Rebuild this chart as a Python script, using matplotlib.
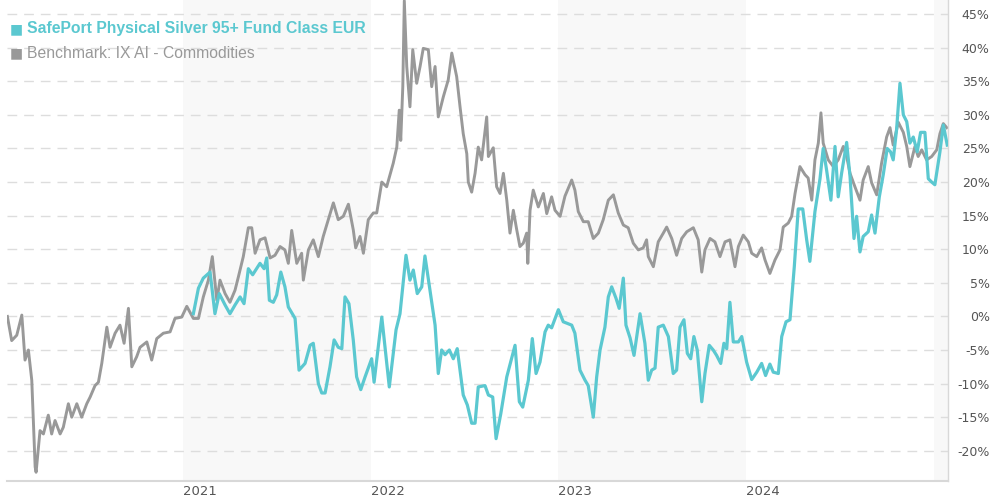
import matplotlib
matplotlib.use("Agg")
import matplotlib.pyplot as plt
import matplotlib.ticker as mticker

# ---- data (decimal years, % return) ----
bench_t = [2020.064, 2020.087, 2020.114, 2020.141, 2020.158, 2020.176, 2020.194, 2020.212, 2020.217, 2020.238,
           2020.256, 2020.282, 2020.300, 2020.318, 2020.345, 2020.362, 2020.389, 2020.407, 2020.434, 2020.460,
           2020.487, 2020.505, 2020.531, 2020.549, 2020.567, 2020.594, 2020.611, 2020.638, 2020.664, 2020.686,
           2020.709, 2020.727, 2020.753, 2020.771, 2020.807, 2020.833, 2020.860, 2020.895, 2020.931, 2020.957,
           2020.993, 2021.020,
           2021.055, 2021.082, 2021.108, 2021.135, 2021.156, 2021.180, 2021.197, 2021.224, 2021.250, 2021.277,
           2021.295, 2021.321, 2021.348, 2021.366, 2021.384, 2021.410, 2021.437, 2021.464, 2021.490, 2021.517,
           2021.543, 2021.561, 2021.579, 2021.606, 2021.632, 2021.641, 2021.668, 2021.694, 2021.721, 2021.747,
           2021.774, 2021.801, 2021.827, 2021.854, 2021.881, 2021.907, 2021.920, 2021.943,
           2021.961, 2021.987, 2022.014, 2022.032, 2022.059, 2022.085, 2022.120, 2022.139, 2022.152, 2022.160,
           2022.171, 2022.179, 2022.192, 2022.209, 2022.224, 2022.245, 2022.263, 2022.280, 2022.307, 2022.325,
           2022.343, 2022.360, 2022.387, 2022.413, 2022.432, 2022.458, 2022.476, 2022.493, 2022.512, 2022.520,
           2022.538, 2022.556, 2022.573, 2022.591, 2022.618, 2022.627, 2022.653, 2022.671, 2022.689, 2022.707,
           2022.725, 2022.742, 2022.760, 2022.778, 2022.795, 2022.813, 2022.831, 2022.837, 2022.849, 2022.866,
           2022.893, 2022.920, 2022.938, 2022.964, 2022.982,
           2023.009, 2023.035, 2023.071, 2023.088, 2023.106, 2023.133, 2023.159, 2023.186, 2023.213, 2023.239,
           2023.266, 2023.293, 2023.319, 2023.346, 2023.372, 2023.399, 2023.426, 2023.452, 2023.470, 2023.479,
           2023.506, 2023.532, 2023.559, 2023.577, 2023.604, 2023.630, 2023.657, 2023.684, 2023.719, 2023.745,
           2023.764, 2023.781, 2023.808, 2023.834, 2023.861, 2023.888,
           2023.914, 2023.941, 2023.959, 2023.985, 2024.012, 2024.030, 2024.057, 2024.083, 2024.101, 2024.127,
           2024.154, 2024.181, 2024.198, 2024.225, 2024.243, 2024.261, 2024.287, 2024.314, 2024.331, 2024.350,
           2024.367, 2024.385, 2024.399, 2024.411, 2024.438, 2024.465, 2024.491, 2024.518, 2024.536, 2024.554,
           2024.580, 2024.607, 2024.624, 2024.651, 2024.669, 2024.696, 2024.722, 2024.749, 2024.767, 2024.784,
           2024.811, 2024.838, 2024.856, 2024.873, 2024.900, 2024.917, 2024.936, 2024.962, 2024.989, 2025.016,
           2025.033, 2025.051, 2025.069]
bench_v = [0, -3.6, -2.8, 0.2, -6.5, -5, -9.5, -22.4, -23.2, -17,
           -17.5, -14.7, -17.5, -15.5, -17.5, -16.5, -13, -15, -13, -15,
           -13, -12, -10.3, -9.8, -7, -1.6, -4.6, -2.5, -1.3, -4,
           1.2, -7.5, -6, -4.6, -3.8, -6.5, -3.3, -2.5, -2.3, -0.3,
           -0.1, 1.5,
           -0.3, -0.3, 2.9, 5.4, 8.9, 2.4, 5.4, 3.4, 2.1, 3.9,
           5.9, 8.9, 13.2, 13.2, 9.4, 11.4, 11.7, 8.7, 9.1, 10.4,
           9.9, 7.9, 12.8, 7.9, 9.4, 5.4, 9.9, 11.4, 8.9, 11.9,
           14.4, 16.9, 14.4, 14.9, 16.7, 12.9, 10.2, 11.9,
           9.4, 14.4, 15.4, 15.4, 20, 19.3, 22.8, 25.2, 30.7, 26.2,
           34.2, 47, 37.2, 31.2, 39.7, 34.7, 37.2, 39.9, 39.7, 34.2,
           37.2, 29.7, 32.7, 35.2, 39.2, 35.7, 31.2, 27.2, 24.2, 20,
           18.5, 21.3, 25.2, 23.3, 29.7, 23.8, 25.1, 19.3, 18.3, 21.3,
           17.3, 12.4, 15.8, 12.9, 10.4, 10.9, 12.4, 7.9, 15.8, 18.8,
           16.3, 18.3, 15.3, 17.8, 15.8,
           14.9, 17.9, 20.3, 18.8, 15.6, 14.1, 14.1, 11.6, 12.4, 14.4,
           17.3, 18.1, 15.4, 13.6, 13.2, 10.9, 9.9, 10.2, 11.4, 8.9,
           7.4, 11.1, 12.4, 13.3, 11.6, 9.1, 11.6, 12.6, 13.2, 11.4,
           6.6, 9.9, 11.6, 11.1, 8.9, 11.1,
           11.4, 7.4, 10.4, 12.1, 11.1, 9.4, 8.9, 10.2, 8.4, 6.4,
           8.4, 9.9, 13.3, 13.9, 14.9, 18.3, 22.3, 21.1, 20.6, 17.3,
           23.3, 25.8, 30.3, 25.8, 23.3, 22.3, 23.3, 25.3, 23.8, 21.3,
           19.3, 17.3, 20.3, 22.3, 19.9, 18.1, 22.8, 26.7, 28.1, 25.5,
           28.9, 27.4, 25.3, 22.3, 25.3, 23.8, 24.8, 23.3, 23.8, 24.8,
           27.2, 28.7, 28.1]

fund_t = [2021.055, 2021.082, 2021.108, 2021.144, 2021.170, 2021.193, 2021.224, 2021.250, 2021.277, 2021.304,
          2021.325, 2021.348, 2021.371, 2021.410, 2021.432, 2021.446, 2021.460, 2021.481, 2021.499, 2021.521,
          2021.543, 2021.561, 2021.597, 2021.618, 2021.650, 2021.677, 2021.694, 2021.721, 2021.739, 2021.757,
          2021.783, 2021.805, 2021.827, 2021.846, 2021.863, 2021.884, 2021.907, 2021.925, 2021.947, 2021.970,
          2022.005, 2022.018, 2022.059, 2022.099, 2022.135, 2022.156, 2022.188, 2022.209, 2022.227, 2022.248,
          2022.272, 2022.289, 2022.316, 2022.343, 2022.360, 2022.378, 2022.396, 2022.419, 2022.440, 2022.461,
          2022.493, 2022.515, 2022.538, 2022.556, 2022.573, 2022.609, 2022.627, 2022.650, 2022.668, 2022.693,
          2022.725, 2022.769, 2022.792, 2022.810, 2022.840, 2022.861, 2022.881, 2022.902, 2022.929, 2022.946,
          2022.964, 2023.000, 2023.026, 2023.044, 2023.071, 2023.088, 2023.115, 2023.142, 2023.159, 2023.186,
          2023.204, 2023.222, 2023.248, 2023.266, 2023.284, 2023.307, 2023.324, 2023.346, 2023.360, 2023.382,
          2023.403, 2023.435, 2023.461, 2023.479, 2023.497, 2023.515, 2023.532, 2023.559, 2023.586, 2023.612,
          2023.630, 2023.648, 2023.669, 2023.687, 2023.705, 2023.722, 2023.740, 2023.764, 2023.781, 2023.804,
          2023.825, 2023.843, 2023.865, 2023.882, 2023.897, 2023.914, 2023.932, 2023.959, 2023.977, 2024.003,
          2024.030, 2024.057, 2024.083, 2024.104, 2024.127, 2024.145, 2024.172, 2024.190, 2024.213, 2024.234,
          2024.257, 2024.278, 2024.302, 2024.323, 2024.340, 2024.367, 2024.394, 2024.411, 2024.429, 2024.452,
          2024.474, 2024.491, 2024.509, 2024.536, 2024.554, 2024.575, 2024.589, 2024.607, 2024.624, 2024.651,
          2024.669, 2024.687, 2024.710, 2024.731, 2024.752, 2024.770, 2024.784, 2024.802, 2024.820, 2024.838,
          2024.856, 2024.873, 2024.891, 2024.912, 2024.930, 2024.953, 2024.971, 2024.989, 2025.006, 2025.033,
          2025.051, 2025.072]
fund_v = [0.4, 4.2, 5.7, 6.6, 0.4, 3.4, 1.7, 0.4, 1.7, 2.9,
          1.9, 7.1, 6.2, 7.9, 7.1, 8.7, 2.4, 2.1, 3.2, 6.6,
          4.4, 1.4, -0.3, -8, -7, -4.3, -4, -10, -11.4, -11.4,
          -7.5, -3.5, -4.6, -4.8, 2.9, 1.9, -3.5, -9, -10.9, -9,
          -6.3, -9.8, -0.1, -10.5, -2, 0.4, 9.1, 5.4, 6.9, 3.4,
          4.4, 9, 3.9, -1.3, -8.5, -5, -5.7, -5, -6.3, -4.8,
          -11.7, -13.2, -15.9, -15.9, -10.5, -10.3, -11.7, -12, -18.2, -14.5,
          -9, -4.3, -12.7, -13.5, -9.5, -3.3, -8.5, -6.8, -2.3, -1.3,
          -1.7, 1, -0.8, -1, -1.3, -2.5, -8, -9.5, -10.3, -15,
          -9, -5, -1.6, 2.9, 4.4, 2.7, 1.2, 5.7, -1.3, -3.2,
          -5.8, 0.4, -4, -9.5, -8, -7.7, -1.6, -1.3, -3, -8.5,
          -8, -1.6, -0.5, -5.5, -6.3, -3, -5, -12.7, -8.5, -4.3,
          -5, -5.8, -7, -4, -4.8, 2.1, -3.8, -3.8, -3, -6.8,
          -9.4, -8.3, -7, -8.8, -7.1, -8.3, -8.5, -3, -0.8, -0.5,
          7.4, 16, 16, 11.4, 8.2, 15.6, 20.5, 25, 21.8, 17.3,
          25.3, 17.8, 21.3, 25.9, 20.8, 11.6, 14.9, 9.6, 11.9, 12.6,
          15.1, 12.4, 17.8, 21.1, 25, 24.5, 23.3, 27.8, 34.7, 30,
          29, 25.8, 26.7, 24.5, 27.4, 27.4, 20.5, 20, 19.6, 24.5,
          28.5, 25.5]

years = [2021, 2022, 2023, 2024]
shaded_years = [2021, 2023, 2025]
y_ticks = list(range(-20, 50, 5))

fund_name = "SafePort Physical Silver 95+ Fund Class EUR"
bench_name = "Benchmark: IX AI - Commodities"
fund_color = "#5bc8d0"
bench_color = "#999999"

# ---- figure ----
fig = plt.figure(figsize=(9.9, 5.0), dpi=100)
ax = fig.add_axes([7 / 990, 19 / 500, (948 - 7) / 990, 481 / 500])

x_min, x_max = 2020.062, 2025.076
ax.set_xlim(x_min, x_max)
ax.set_ylim(-24.5, 47.1)

for yr in shaded_years:
    ax.axvspan(yr, yr + 1, color="#f8f8f8", lw=0, zorder=0)

for yv in y_ticks:
    ax.axhline(yv, color="#dddddd", lw=1.0, ls=(0, (7, 5)), zorder=1)

ax.plot(bench_t, bench_v, color=bench_color, lw=2.1, zorder=2, solid_joinstyle="round")
ax.plot(fund_t, fund_v, color=fund_color, lw=2.3, zorder=3, solid_joinstyle="round")

for s in ["top", "left"]:
    ax.spines[s].set_visible(False)
ax.spines["right"].set_color("#d8d8d8")
ax.spines["bottom"].set_color("#d8d8d8")
ax.spines["right"].set_linewidth(1)
ax.spines["bottom"].set_linewidth(1.5)

ax.yaxis.tick_right()
ax.set_yticks(y_ticks)
ax.yaxis.set_major_formatter(mticker.FuncFormatter(lambda v, p: f"{int(v)}%"))
ax.tick_params(axis="y", length=0, pad=30, labelsize=9, labelcolor="#555555")
for lab in ax.get_yticklabels():
    lab.set_horizontalalignment("right")
    lab.set_fontfamily("DejaVu Sans")

ax.set_xticks(years)
ax.set_xticklabels([str(y) for y in years])
ax.tick_params(axis="x", length=0, pad=3, labelsize=9.5, labelcolor="#555555")
for lab in ax.get_xticklabels():
    lab.set_horizontalalignment("left")
    lab.set_fontfamily("DejaVu Sans")

# legend
fig.text(10 / 990, 1 - 29 / 500, "\u25A0", color=fund_color, fontsize=10,
         family="DejaVu Sans", va="center", ha="left")
fig.text(27 / 990, 1 - 29 / 500, fund_name, color=fund_color, fontsize=11.3,
         fontweight="bold", family="Liberation Sans", va="center", ha="left")
fig.text(10 / 990, 1 - 53 / 500, "\u25A0", color=bench_color, fontsize=10,
         family="DejaVu Sans", va="center", ha="left")
fig.text(27 / 990, 1 - 53 / 500, bench_name, color=bench_color, fontsize=11.3,
         family="Liberation Sans", va="center", ha="left")

fig.savefig("out.png", dpi=100, facecolor="white")
